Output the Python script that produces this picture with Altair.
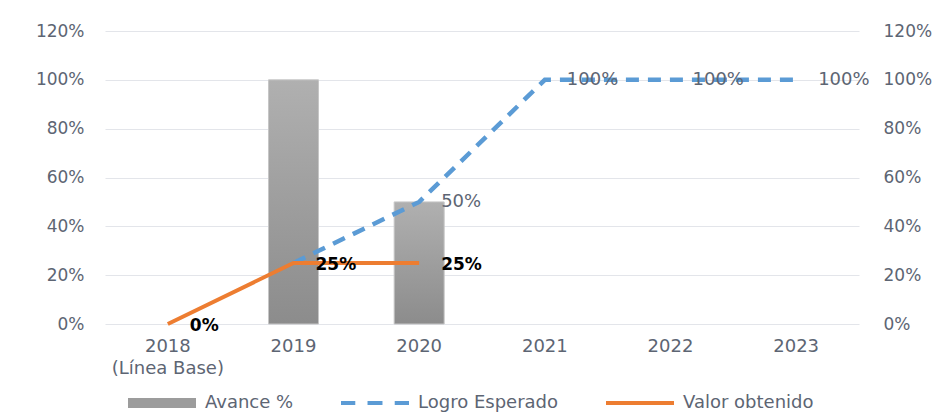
import altair as alt
import pandas as pd

years = ["2018", "2019", "2020", "2021", "2022", "2023"]
avance = [None, 1.00, 0.50, None, None, None]
logro = [None, 0.25, 0.50, 1.00, 1.00, 1.00]
valor = [0.00, 0.25, 0.25, None, None, None]
series = ["Avance %", "Logro Esperado", "Valor obtenido"]
colors = ["#9c9c9c", "#5b9bd5", "#ed7d31"]
y_ticks = [0, 0.2, 0.4, 0.6, 0.8, 1.0, 1.2]

df = pd.DataFrame({"year": years, "avance": avance, "logro": logro, "valor": valor})
legend_df = pd.DataFrame({"serie": series, "v": [None, None, None]})

TXT = "#5d6573"
FONT = "DejaVu Sans"
DOM = [0, 1.2]

shape_paths = [
    "M-1,-0.15H1V0.15H-1Z",
    "M-1,-0.06H-0.58V0.06H-1Z M-0.22,-0.06H0.22V0.06H-0.22Z M0.58,-0.06H1V0.06H0.58Z",
    "M-1,-0.06H1V0.06H-1Z",
]

x_enc = alt.X(
    "year:N", sort=years, title=None,
    scale=alt.Scale(paddingInner=0, paddingOuter=0),
    axis=alt.Axis(
        labelAngle=0, domain=False, ticks=False, labelPadding=13,
        labelFont=FONT, labelFontSize=18, labelColor=TXT, labelLineHeight=22,
        labelExpr="datum.value == '2018' ? ['2018', '(Línea Base)'] : datum.value",
    ),
)


def yenc(field, axis=None):
    return alt.Y(field, title=None, scale=alt.Scale(domain=DOM, nice=False, zero=True), axis=axis)


left_axis = alt.Axis(
    values=y_ticks, format=".0%", domain=False, ticks=False, labelPadding=21,
    labelFont=FONT, labelFontSize=17, labelColor=TXT, gridColor="#e3e5ea", gridWidth=1.2,
)
right_axis = alt.Axis(
    values=y_ticks, format=".0%", domain=False, ticks=False, labelPadding=24, grid=False,
    orient="right", labelFont=FONT, labelFontSize=17, labelColor=TXT,
)

base = alt.Chart(df)

bars = base.mark_bar(
    size=50,
    color=alt.Gradient(
        gradient="linear", x1=0, x2=0, y1=0, y2=1,
        stops=[alt.GradientStop(color="#b0b0b0", offset=0), alt.GradientStop(color="#8c8c8c", offset=1)],
    ),
    stroke="#c6c6c6", strokeWidth=1,
).encode(x=x_enc, y=yenc("avance:Q", left_axis))

blue = base.mark_line(color="#5b9bd5", strokeWidth=4.5, strokeDash=[13, 9]).encode(
    x=x_enc, y=yenc("logro:Q")
)
blue_lbl = base.transform_filter("datum.year != '2019'").mark_text(
    align="left", baseline="middle", dx=22, font=FONT, fontSize=18, color=TXT
).encode(x=x_enc, y=yenc("logro:Q"), text=alt.Text("logro:Q", format=".0%"))

orange = base.mark_line(color="#ed7d31", strokeWidth=4).encode(x=x_enc, y=yenc("valor:Q", right_axis))
orange_lbl = base.mark_text(
    align="left", baseline="middle", dx=22, dy=2, font=FONT, fontSize=17, fontWeight="bold", color="#000000"
).encode(x=x_enc, y=yenc("valor:Q"), text=alt.Text("valor:Q", format=".0%"))

leg = alt.Legend(
    title=None, orient="none", legendX=23, legendY=338, direction="horizontal",
    symbolSize=4624, symbolStrokeWidth=0, symbolOpacity=1,
    labelFont=FONT, labelFontSize=18, labelColor=TXT, labelOffset=9, columnPadding=47,
)
legend_layer = alt.Chart(legend_df).mark_point(filled=True).encode(
    y=yenc("v:Q"),
    color=alt.Color("serie:N", scale=alt.Scale(domain=series, range=colors), legend=leg),
    shape=alt.Shape("serie:N", scale=alt.Scale(domain=series, range=shape_paths), legend=leg),
)

chart = alt.layer(bars, blue, blue_lbl, orange, orange_lbl, legend_layer).resolve_scale(
    y="independent"
).properties(
    width=754, height=293,
    autosize=alt.AutoSizeParams(type="none"),
    padding={"left": 97, "top": 23, "right": 77, "bottom": 88},
).configure_view(stroke=None)

chart.save("out.html", embed_options={"renderer": "svg", "actions": False})
